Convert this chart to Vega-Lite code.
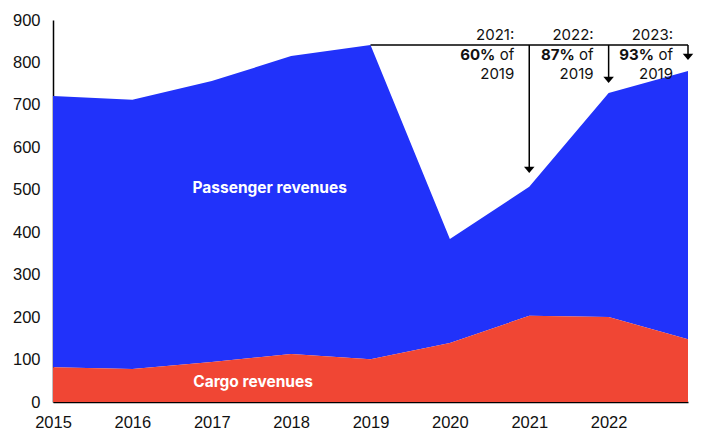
{
  "$schema": "https://vega.github.io/schema/vega-lite/v6.json",
  "width": 635,
  "height": 382,
  "autosize": {"type": "none"},
  "padding": {"left": 53, "top": 20, "right": 16, "bottom": 28},
  "background": "white",
  "config": {
    "view": {"stroke": null},
    "font": "Inter",
    "axis": {"labelFont": "Liberation Sans", "labelFontSize": 16.5, "labelColor": "#111111", "domainColor": "#000000", "domainWidth": 1.5, "ticks": false, "grid": false, "title": null}
  },
  "datasets": {
    "rev": [
      {"year": 2015, "cargo": 82, "total": 721},
      {"year": 2016, "cargo": 78, "total": 712},
      {"year": 2017, "cargo": 94, "total": 756},
      {"year": 2018, "cargo": 113, "total": 815},
      {"year": 2019, "cargo": 101, "total": 841},
      {"year": 2020, "cargo": 139, "total": 384},
      {"year": 2021, "cargo": 203, "total": 507},
      {"year": 2022, "cargo": 200, "total": 728},
      {"year": 2023, "cargo": 148, "total": 780}
    ],
    "notes": [
      {"year": 2021, "head": "2021:", "pct": "60%", "ref": 841, "tip": 547},
      {"year": 2022, "head": "2022:", "pct": "87%", "ref": 841, "tip": 759},
      {"year": 2023, "head": "2023:", "pct": "93%", "ref": 841, "tip": 813}
    ],
    "labels": [
      {"x": 2017.73, "y": 504, "label": "Passenger revenues"},
      {"x": 2017.52, "y": 47, "label": "Cargo revenues"}
    ],
    "refline": [{"x": 2019, "x2": 2023, "y": 841}]
  },
  "layer": [
    {
      "data": {"name": "rev"},
      "mark": {"type": "area", "color": "#2132FA", "opacity": 1},
      "encoding": {
        "x": {"field": "year", "type": "quantitative", "scale": {"domain": [2015, 2023], "nice": false}, "axis": {"values": [2015, 2016, 2017, 2018, 2019, 2020, 2021, 2022], "format": "d", "labelPadding": 12, "labelFlush": false}},
        "y": {"field": "total", "type": "quantitative", "scale": {"domain": [0, 900], "nice": false}, "axis": {"values": [0, 100, 200, 300, 400, 500, 600, 700, 800, 900], "labelPadding": 13}},
        "y2": {"field": "cargo"}
      }
    },
    {
      "data": {"name": "rev"},
      "mark": {"type": "area", "color": "#F04634", "opacity": 1},
      "encoding": {
        "x": {"field": "year", "type": "quantitative"},
        "y": {"field": "cargo", "type": "quantitative"}
      }
    },
    {
      "data": {"name": "labels"},
      "mark": {"type": "text", "color": "white", "fontWeight": "bold", "fontSize": 15.5, "align": "center", "baseline": "middle"},
      "encoding": {
        "x": {"field": "x", "type": "quantitative"},
        "y": {"field": "y", "type": "quantitative"},
        "text": {"field": "label"}
      }
    },
    {
      "data": {"name": "refline"},
      "mark": {"type": "rule", "color": "black", "strokeWidth": 1.5},
      "encoding": {
        "x": {"field": "x", "type": "quantitative"},
        "x2": {"field": "x2"},
        "y": {"field": "y", "type": "quantitative"}
      }
    },
    {
      "data": {"name": "notes"},
      "mark": {"type": "rule", "color": "black", "strokeWidth": 1.5},
      "encoding": {
        "x": {"field": "year", "type": "quantitative"},
        "y": {"field": "ref", "type": "quantitative"},
        "y2": {"field": "tip"}
      }
    },
    {
      "data": {"name": "notes"},
      "mark": {"type": "point", "shape": "M-1,-0.6L1,-0.6L0,0.6Z", "filled": true, "color": "black", "opacity": 1, "size": 110},
      "encoding": {
        "x": {"field": "year", "type": "quantitative"},
        "y": {"field": "tip", "type": "quantitative"}
      }
    },
    {
      "data": {"name": "notes"},
      "mark": {"type": "text", "align": "right", "baseline": "middle", "fontSize": 15, "color": "#111111", "dx": -15, "dy": -10},
      "encoding": {
        "x": {"field": "year", "type": "quantitative"},
        "y": {"field": "ref", "type": "quantitative"},
        "text": {"field": "head"}
      }
    },
    {
      "data": {"name": "notes"},
      "mark": {"type": "text", "align": "right", "baseline": "middle", "fontSize": 15, "color": "#111111", "dx": -15, "dy": 10},
      "encoding": {
        "x": {"field": "year", "type": "quantitative"},
        "y": {"field": "ref", "type": "quantitative"},
        "text": {"value": "of"}
      }
    },
    {
      "data": {"name": "notes"},
      "mark": {"type": "text", "align": "right", "baseline": "middle", "fontSize": 15, "fontWeight": "bold", "color": "#111111", "dx": -34, "dy": 10},
      "encoding": {
        "x": {"field": "year", "type": "quantitative"},
        "y": {"field": "ref", "type": "quantitative"},
        "text": {"field": "pct"}
      }
    },
    {
      "data": {"name": "notes"},
      "mark": {"type": "text", "align": "right", "baseline": "middle", "fontSize": 15, "color": "#111111", "dx": -15, "dy": 29},
      "encoding": {
        "x": {"field": "year", "type": "quantitative"},
        "y": {"field": "ref", "type": "quantitative"},
        "text": {"value": "2019"}
      }
    }
  ]
}
